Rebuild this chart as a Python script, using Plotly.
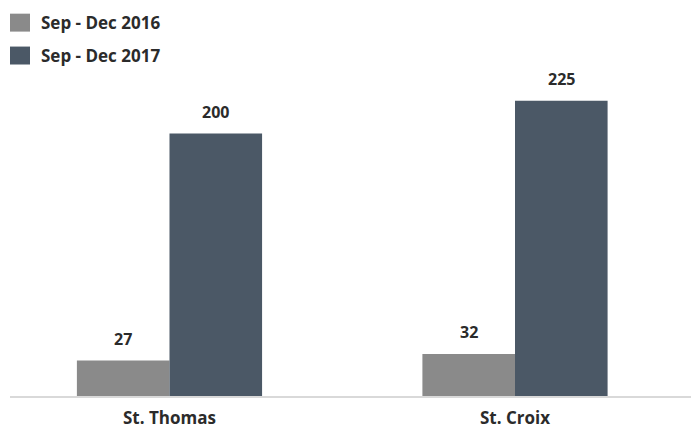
import plotly.graph_objects as go

islands = ["St. Thomas", "St. Croix"]
series_names = ["Sep - Dec 2016", "Sep - Dec 2017"]
values_2016 = [27, 32]
values_2017 = [200, 225]

colors = ["#8a8a8a", "#4b5866"]
font_family = "'Open Sans', Lato, sans-serif"
text_color = "#2b2b2b"

bar_w = 0.268  # width of a single bar, in category units
plot_h = 329   # plot area height in px
plot_w = 681
base_px = 396.5

fig = go.Figure()
for k, (name, vals) in enumerate(zip(series_names, [values_2016, values_2017])):
    fig.add_trace(go.Bar(
        x=islands, y=vals, name=name,
        marker=dict(color=colors[k], line=dict(width=0)),
        width=bar_w, offset=-bar_w if k == 0 else 0,
        showlegend=False, hoverinfo="x+y",
    ))
    # value labels above each bar
    for i, v in enumerate(vals):
        fig.add_annotation(
            x=i + (-bar_w / 2 if k == 0 else bar_w / 2), y=v,
            xref="x", yref="y", text=f"<b>{v}</b>", showarrow=False,
            yanchor="bottom", yshift=9,
            font=dict(family=font_family, size=16, color=text_color),
        )

# legend: swatches with labels, stacked in the top-left corner
for k, name in enumerate(series_names):
    top = 13 + k * 33
    fig.add_shape(type="rect", xref="paper", yref="paper",
                  x0=0, x1=20 / plot_w,
                  y0=(base_px - top) / plot_h,
                  y1=(base_px - top - 18) / plot_h,
                  fillcolor=colors[k], line=dict(width=0), layer="above")
    fig.add_annotation(xref="paper", yref="paper",
                       x=29 / plot_w, y=(base_px - top - 9) / plot_h,
                       xanchor="left", yanchor="middle", showarrow=False,
                       text=f"<b>{name}</b>",
                       font=dict(family=font_family, size=17, color=text_color))

fig.update_layout(
    width=691, height=429,
    margin=dict(l=10, r=0, t=67.5, b=32.5, autoexpand=False),
    paper_bgcolor="white", plot_bgcolor="white",
    barmode="group",
    xaxis=dict(
        type="category",
        range=[-0.4616, 1.5094],
        automargin=False,
        showline=True, linecolor="#d9d9d9", linewidth=2,
        showgrid=False, zeroline=False,
        ticks="outside", ticklen=6, tickcolor="rgba(0,0,0,0)",
        tickfont=dict(family=font_family, size=17, color=text_color),
        tickvals=islands, ticktext=[f"<b>{c}</b>" for c in islands],
    ),
    yaxis=dict(range=[0, 250], visible=False, showgrid=False, zeroline=False,
               automargin=False),
)

fig.write_html("out.html")
